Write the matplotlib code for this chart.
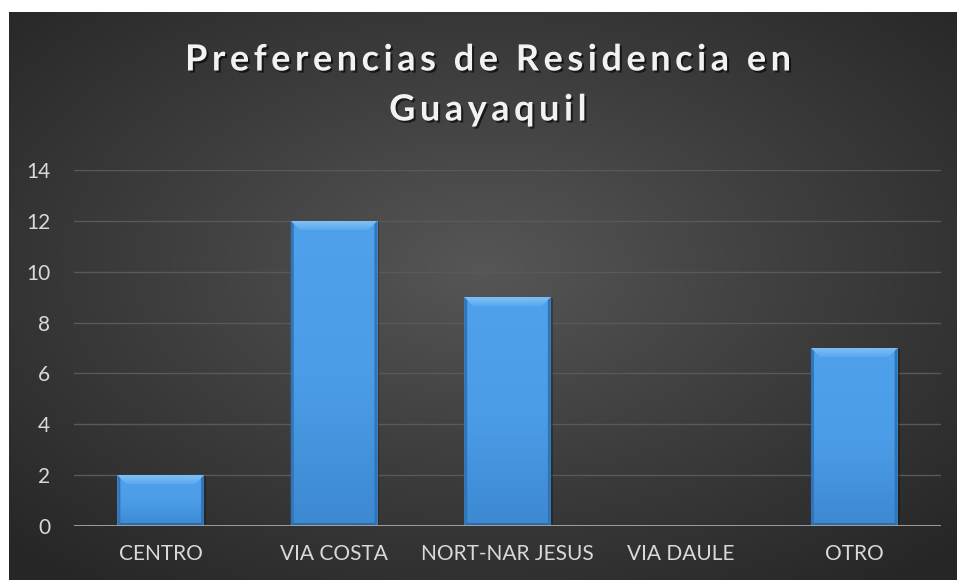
import numpy as np
import matplotlib
matplotlib.use('Agg')
import matplotlib.pyplot as plt
import matplotlib.patheffects as pe
from matplotlib.patches import Polygon, Rectangle
from matplotlib.colors import LinearSegmentedColormap

categorias = ['CENTRO', 'VIA COSTA', 'NORT-NAR JESUS', 'VIA DAULE', 'OTRO']
valores = [2, 12, 9, 0, 7]
yticks = [0, 2, 4, 6, 8, 10, 12, 14]
titulo = ['Preferencias de Residencia en', 'Guayaquil']

W, H = 957, 580
fig = plt.figure(figsize=(W / 100, H / 100), dpi=100)
fig.patch.set_facecolor('white')

# fondo oscuro con degradado radial
bg = fig.add_axes([9 / W, 0, 1 - 9 / W, 1 - 12 / H])
bg.set_axis_off()
yy, xx = np.mgrid[0:1:300j, 0:1:500j]
r = np.sqrt(((xx - 0.5) / 0.75) ** 2 + ((yy - 0.45) / 0.75) ** 2)
r = np.clip(r / 0.95, 0, 1)
cmap_bg = LinearSegmentedColormap.from_list('bg', ['#565656', '#3d3d3d', '#262626'])
bg.imshow(r, cmap=cmap_bg, aspect='auto', extent=[0, 1, 0, 1], origin='upper', vmin=0, vmax=1)
bg.set_xlim(0, 1)
bg.set_ylim(0, 1)

ax = fig.add_axes([74 / W, 1 - 526 / H, 867 / W, 356 / H])
ax.set_facecolor('none')
for s in ax.spines.values():
    s.set_visible(False)

x = np.arange(len(categorias))
ancho = 0.5
ax.set_xlim(-0.5, len(categorias) - 0.5)
ax.set_ylim(0, 14)

ax.set_yticks(yticks)
ax.yaxis.grid(True, color='#595959', linewidth=1.0)
ax.set_axisbelow(True)
ax.axhline(0, color='#a6a6a6', linewidth=2, zorder=5)

# escala pixel -> datos
px_x = 5 / 867
px_y = 14 / 356

cmap_bar = LinearSegmentedColormap.from_list('bar', ['#3d89d2', '#4c9de8', '#4fa1ec'])
grad = np.linspace(0, 1, 100).reshape(-1, 1)
cmap_top = LinearSegmentedColormap.from_list('top', ['#5aa8ee', '#80c2f7'])
for xi, v in zip(x, valores):
    if v <= 0:
        continue
    x0, x1 = xi - ancho / 2, xi + ancho / 2
    # sombra
    ax.add_patch(Rectangle((x0 + 2 * px_x, 0), ancho, v - 1 * px_y,
                           facecolor='black', alpha=0.25, edgecolor='none', zorder=2))
    rect = Rectangle((x0, 0), ancho, v, facecolor='#4596e0', edgecolor='none', zorder=3)
    ax.add_patch(rect)
    im = ax.imshow(grad, cmap=cmap_bar, extent=[x0, x1, 0, v], aspect='auto',
                   origin='lower', zorder=3)
    im.set_clip_path(rect)
    b = 9
    bx, by = b * px_x, b * px_y
    top = Polygon([[x0, v], [x1, v], [x1 - bx, v - by], [x0 + bx, v - by]],
                  closed=True, facecolor='none', edgecolor='none', zorder=4)
    ax.add_patch(top)
    imt = ax.imshow(grad, cmap=cmap_top, extent=[x0, x1, v - by, v], aspect='auto',
                    origin='lower', zorder=4)
    imt.set_clip_path(top)
    s = 3
    sx, sy = s * px_x, s * px_y
    ax.add_patch(Polygon([[x0, v], [x0 + sx, v - sy], [x0 + sx, sy], [x0, 0]],
                         closed=True, facecolor='#3275b6', edgecolor='none', zorder=4))
    ax.add_patch(Polygon([[x1, v], [x1 - sx, v - sy], [x1 - sx, sy], [x1, 0]],
                         closed=True, facecolor='#3275b6', edgecolor='none', zorder=4))
    ax.add_patch(Polygon([[x0, 0], [x1, 0], [x1 - sx, sy], [x0 + sx, sy]],
                         closed=True, facecolor='#2e6aa6', edgecolor='none', zorder=4))
ax.set_xlim(-0.5, len(categorias) - 0.5)
ax.set_ylim(0, 14)

ax.set_xticks(x)
ax.set_xticklabels(categorias)
ax.tick_params(axis='both', length=0, colors='#d9d9d9', labelsize=15)
ax.tick_params(axis='y', pad=17)
ax.tick_params(axis='x', pad=13)
for lab in ax.get_xticklabels() + ax.get_yticklabels():
    lab.set_fontfamily(['Lato', 'DejaVu Sans'])

sombra = [pe.withSimplePatchShadow(offset=(1.5, -1.5), shadow_rgbFace='black', alpha=0.6)]
ys = [1 - 60 / H, 1 - 110 / H]
for t, yp in zip(titulo, ys):
    espaciado = '\u2009'.join(list(t))
    fig.text(488 / W, yp, espaciado, ha='center', va='center', color='#f2f2f2',
             fontsize=26, fontweight='bold', family=['Lato', 'DejaVu Sans'],
             path_effects=sombra)

fig.savefig('out.png', dpi=100)
plt.close('all')
